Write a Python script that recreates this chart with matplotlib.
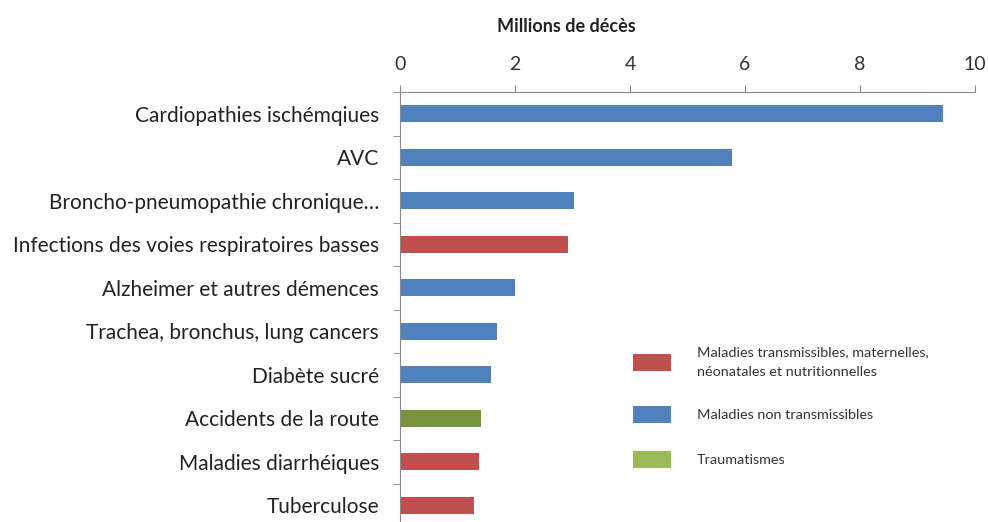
import matplotlib
matplotlib.use("Agg")
import matplotlib.pyplot as plt
from matplotlib.patches import Patch

categories = [
    "Cardiopathies ischémqiues",
    "AVC",
    "Broncho-pneumopathie chronique…",
    "Infections des voies respiratoires basses",
    "Alzheimer et autres démences",
    "Trachea, bronchus, lung cancers",
    "Diabète sucré",
    "Accidents de la route",
    "Maladies diarrhéiques",
    "Tuberculose",
]
values = [9.44, 5.77, 3.03, 2.92, 2.00, 1.69, 1.58, 1.40, 1.38, 1.29]
groups = ["NT", "NT", "NT", "T", "NT", "NT", "NT", "TR", "T", "T"]
group_labels = {
    "T": "Maladies transmissibles, maternelles,\nnéonatales et nutritionnelles",
    "NT": "Maladies non transmissibles",
    "TR": "Traumatismes",
}
xticks = [0, 2, 4, 6, 8, 10]

bar_colors = {"T": "#C0504D", "NT": "#4F81BD", "TR": "#77933C"}
legend_colors = {"T": "#C0504D", "NT": "#4F81BD", "TR": "#9BBB59"}

plt.rcParams["font.family"] = ["Lato", "DejaVu Sans"]

fig = plt.figure(figsize=(9.88, 5.22), dpi=100)
top_px, row_px = 92, 43.5
n = len(categories)
bottom_px = top_px + n * row_px
ax = fig.add_axes([400 / 988, 1 - bottom_px / 522, 575 / 988, n * row_px / 522])

ypos = list(range(n))
ax.barh(ypos, values, height=0.4, color=[bar_colors[g] for g in groups])
ax.set_ylim(n - 0.5, -0.5)
ax.set_xlim(0, 10)

ax.xaxis.tick_top()
ax.set_xticks(xticks)
ax.set_xticklabels([str(t) for t in xticks], fontsize=14, color="#333333")
ax.tick_params(axis="x", direction="out", length=5, color="#888888", pad=9)

ax.set_yticks(ypos)
ax.set_yticklabels(categories, fontsize=15, color="#222222")
ax.tick_params(axis="y", length=0, pad=15)
ax.set_yticks([i - 0.5 for i in range(n + 1)], minor=True)
ax.tick_params(axis="y", which="minor", length=5, color="#888888")

for s in ["right", "bottom"]:
    ax.spines[s].set_visible(False)
ax.spines["top"].set_color("#888888")
ax.spines["left"].set_color("#888888")

fig.text(566 / 988, 1 - 27 / 522, "Millions de décès", ha="center", va="center",
         fontsize=13, fontweight="bold", color="#222222")

handles = [Patch(facecolor=legend_colors[k], edgecolor="none") for k in ["T", "NT", "TR"]]
labels = [group_labels[k] for k in ["T", "NT", "TR"]]
leg = ax.legend(handles, labels, loc="upper left", bbox_to_anchor=(620 / 988, 1 - 333 / 522),
                bbox_transform=fig.transFigure, frameon=False, fontsize=10.4,
                handlelength=2.6, handleheight=1.4, handletextpad=1.8, labelspacing=1.95)
for t in leg.get_texts():
    t.set_color("#333333")
    t.set_linespacing(1.8)

fig.savefig("out.png", dpi=100)
